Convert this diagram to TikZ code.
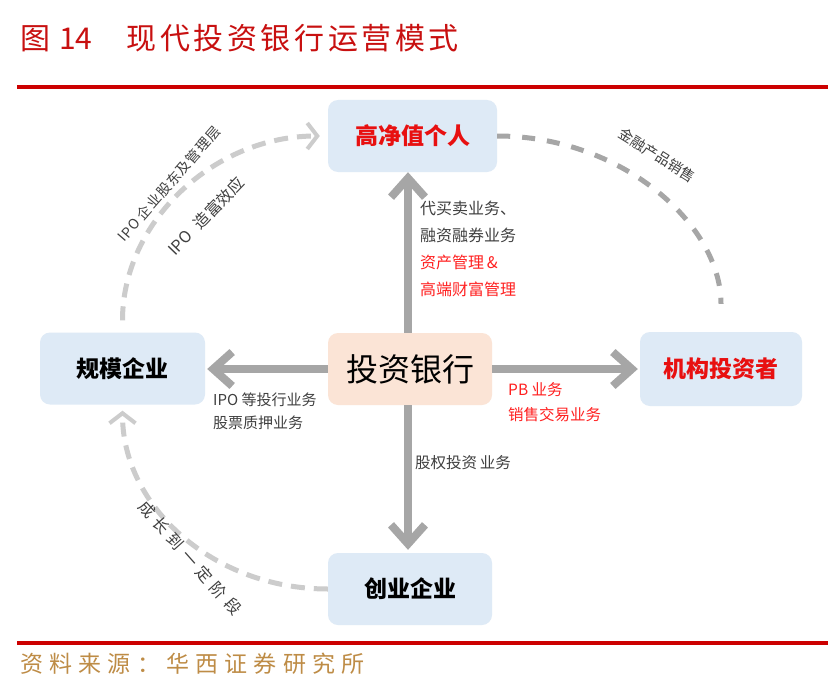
\documentclass[tikz,border=0pt]{standalone}
\usepackage{fontspec}
\setmainfont{Noto Sans CJK SC}
\usetikzlibrary{arrows.meta}
\definecolor{titlered}{RGB}{200,16,16}
\definecolor{rulered}{RGB}{204,0,0}
\definecolor{boxblue}{RGB}{222,234,246}
\definecolor{boxpeach}{RGB}{251,228,214}
\definecolor{arrowgray}{RGB}{166,166,166}
\definecolor{dashlight}{RGB}{204,204,204}
\definecolor{dashdark}{RGB}{166,166,166}
\definecolor{txtred}{RGB}{255,32,32}
\definecolor{nodered}{RGB}{232,16,16}
\definecolor{txtgray}{RGB}{64,64,64}
\definecolor{srcgold}{RGB}{190,140,70}
\tikzset{
  box/.style={rounded corners=10pt, fill=boxblue, inner sep=0pt,
    minimum width=165pt, minimum height=72pt,
    font=\fontsize{23}{26}\selectfont\bfseries},
  mainarr/.style={draw=arrowgray, line width=8.5pt,
    -{Straight Barb[length=19pt, width=34pt, line width=8pt]}},
  dashL/.style={draw=dashlight, line width=5pt, dash pattern=on 14pt off 9pt},
  dashR/.style={draw=dashdark, line width=5pt, dash pattern=on 13pt off 12pt},
  lbl/.style={anchor=west, inner sep=0pt, text=txtgray, font=\fontsize{16}{18}\selectfont},
  rlbl/.style={inner sep=0pt, text=txtgray, font=\fontsize{14}{16}\selectfont},
}
\begin{document}
\begin{tikzpicture}[x=1pt,y=-1pt]
\useasboundingbox (0,0) rectangle (834,690);
\fill[white] (0,0) rectangle (834,690);

% title and rules
\node[anchor=west, inner sep=0pt, text=titlered, font=\fontsize{30}{32}\selectfont] (title) at (20,38)
  {图\hspace{9pt}14\hspace{34pt}{\addfontfeature{LetterSpace=12}现代投资银行运营模式}};
\fill[rulered] (17,85) rectangle (828,89);
\fill[rulered] (17,641) rectangle (828,645);
\node[anchor=west, inner sep=0pt, text=srcgold, font=\fontsize{23}{26}\selectfont\addfontfeature{LetterSpace=27}] (src) at (20,664)
  {资料来源：华西证券研究所};

% nodes
\node[box, text=nodered, minimum width=169pt] (hnw) at (412.5,136) {高净值个人};
\node[box, text=black] (scale) at (122.5,368.5) {规模企业};
\node[box, fill=boxpeach, minimum width=164pt, text=black, font=\fontsize{32}{36}\selectfont] (bank) at (410,369) {投资银行};
\node[box, text=nodered, minimum width=162pt, minimum height=74pt] (mach) at (721,369) {机构投资者};
\node[box, text=black, minimum width=164pt] (venture) at (410,589) {创业企业};

% main arrows
\draw[mainarr] ([xshift=-2pt]bank.north) -- ([xshift=-4.5pt]hnw.south);
\draw[mainarr, shorten >=2pt] (bank.west) -- (bank.west -| scale.east);
\draw[mainarr, shorten >=2pt] (bank.east) -- (bank.east -| mach.west);
\draw[mainarr, shorten >=3pt] ([xshift=-2pt]bank.south) -- ([xshift=-2pt]venture.north);

% dashed arcs
\draw[dashL, shorten <=12pt, shorten >=8pt,
  -{Straight Barb[length=10pt, width=26pt, line width=4pt]}]
  (scale.north) .. controls (122.5,222) and (214,136) .. (hnw.west);
\draw[dashR, shorten >=28pt]
  (hnw.east) .. controls (621,136) and (721,224) .. (mach.north);
\draw[dashL, shorten >=6pt,
  -{Straight Barb[length=10pt, width=26pt, line width=4pt]}]
  (venture.west) .. controls (214,589) and (122.5,507) .. (scale.south);

% labels near arrows
\node[lbl] (t1) at (420,208) {代买卖业务、};
\node[lbl] (t2) at (420,235) {融资融券业务};
\node[lbl, text=txtred] (t3) at (420,262) {资产管理\,\&};
\node[lbl, text=txtred] (t4) at (420,289) {高端财富管理};
\node[lbl, font=\fontsize{15}{17}\selectfont] (t5) at (213,400) {IPO 等投行业务};
\node[lbl, font=\fontsize{15}{17}\selectfont] (t6) at (213,423) {股票质押业务};
\node[lbl, text=txtred, font=\fontsize{15.5}{17}\selectfont] (t7) at (508,390) {PB 业务};
\node[lbl, text=txtred, font=\fontsize{15.5}{17}\selectfont] (t8) at (508,415) {销售交易业务};
\node[lbl, font=\fontsize{15.5}{17}\selectfont] (t9) at (415,463) {股权投资\,业务};

% rotated labels
\node[rlbl, rotate=49, font=\fontsize{14}{16}\selectfont\addfontfeature{LetterSpace=6}] (r1) at (169,184) {IPO 企业股东及管理层};
\node[rlbl, rotate=46, font=\fontsize{16}{17}\selectfont] (r2) at (206,216) {IPO\hspace{10pt}造富效应};
\node[rlbl, rotate=-32, font=\fontsize{14.5}{16}\selectfont] (r3) at (657,155) {金融产品销售};
\node[rlbl, rotate=-48.5, font=\fontsize{16}{18}\selectfont\addfontfeature{LetterSpace=35}] (r4) at (190,558) {成长到一定阶段};
\end{tikzpicture}
\end{document}
